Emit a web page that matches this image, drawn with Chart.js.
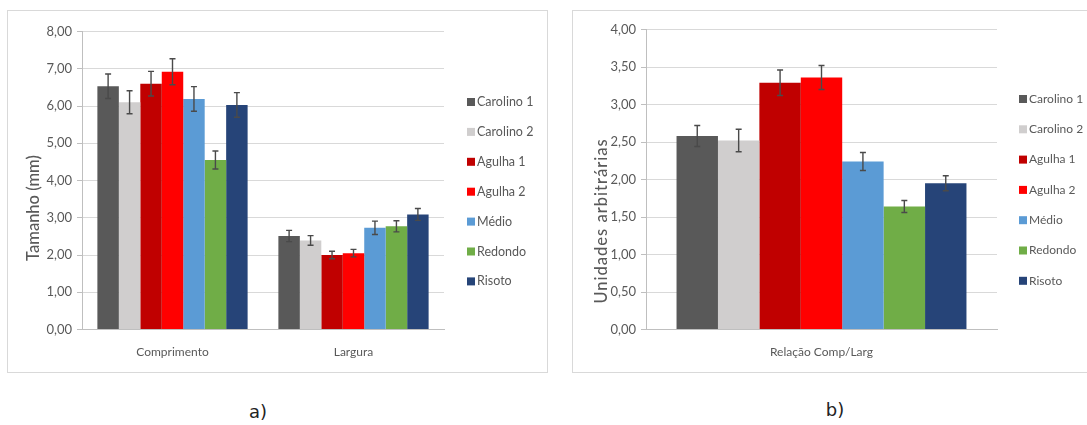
<!DOCTYPE html>
<html>
<head>
<meta charset="utf-8">
<script src="https://cdn.jsdelivr.net/npm/chart.js@4"></script>
<style>
  html, body { margin: 0; padding: 0; background: #fff; }
  body { position: relative; width: 1087px; height: 425px; overflow: hidden; }
  .panel { position: absolute; border: 1px solid #d9d9d9; box-sizing: border-box; }
  canvas { position: absolute; }
  .tag { position: absolute; font-family: "DejaVu Sans", sans-serif; font-size: 18px; color: #222; transform: translate(-50%, -50%); }
</style>
</head>
<body>
<div class="panel" style="left:7px;top:10px;width:541px;height:363px;"></div>
<div class="panel" style="left:572px;top:10px;width:530px;height:363px;"></div>
<canvas id="chartA" width="540" height="362" style="left:7px;top:10px;"></canvas>
<canvas id="chartB" width="520" height="362" style="left:572px;top:10px;"></canvas>
<div class="tag" style="left:258px;top:411px;">a)</div>
<div class="tag" style="left:835px;top:409px;">b)</div>
<script>
// Rice varieties and their colours
const varieties = ['Carolino 1', 'Carolino 2', 'Agulha 1', 'Agulha 2', 'Médio', 'Redondo', 'Risoto'];
const colors = ['#595959', '#d0cece', '#c00000', '#ff0000', '#5b9bd5', '#70ad47', '#264478'];

// a) grain size (mm)
const sizeCategories = ['Comprimento', 'Largura'];
const comprimento = [6.53, 6.10, 6.60, 6.92, 6.19, 4.55, 6.03];
const comprimentoErr = [0.33, 0.31, 0.33, 0.35, 0.33, 0.24, 0.33];
const largura = [2.51, 2.39, 2.00, 2.05, 2.73, 2.77, 3.09];
const larguraErr = [0.15, 0.13, 0.10, 0.10, 0.18, 0.15, 0.16];

// b) length / width ratio
const ratioCategories = ['Relação Comp/Larg'];
const relacao = [2.58, 2.52, 3.29, 3.36, 2.24, 1.64, 1.95];
const relacaoErr = [0.14, 0.15, 0.17, 0.16, 0.12, 0.08, 0.10];

// tick labels
const sizeTicks = [0, 1, 2, 3, 4, 5, 6, 7, 8];
const ratioTicks = [0, 0.5, 1, 1.5, 2, 2.5, 3, 3.5, 4];

const FONT = 'Lato, "Open Sans", sans-serif';
const TEXT = '#595959';
const fmt = v => Number(v).toFixed(2).replace('.', ',');

// Error bars, custom legend and rotated axis title
const extras = {
  id: 'extras',
  afterDatasetsDraw(chart, args, opts) {
    const ctx = chart.ctx;
    const y = chart.scales.y;
    ctx.save();
    ctx.strokeStyle = '#4a4a4a';
    ctx.lineWidth = 1.4;
    chart.data.datasets.forEach((ds, di) => {
      const meta = chart.getDatasetMeta(di);
      meta.data.forEach((bar, i) => {
        const v = ds.data[i], e = ds.errors[i];
        const yt = y.getPixelForValue(v + e), yb = y.getPixelForValue(v - e);
        const x = bar.x;
        ctx.beginPath();
        ctx.moveTo(x, yt); ctx.lineTo(x, yb);
        ctx.moveTo(x - 3, yt); ctx.lineTo(x + 3, yt);
        ctx.moveTo(x - 3, yb); ctx.lineTo(x + 3, yb);
        ctx.stroke();
      });
    });
    ctx.restore();
  },
  afterDraw(chart, args, opts) {
    const ctx = chart.ctx;
    ctx.save();
    // legend
    ctx.font = opts.legendFont + ' ' + FONT;
    ctx.textBaseline = 'middle';
    ctx.textAlign = 'left';
    chart.data.datasets.forEach((ds, i) => {
      const cy = opts.legendY + i * opts.legendStep;
      ctx.fillStyle = ds.backgroundColor;
      ctx.fillRect(opts.legendX, cy - 4, 8, 8);
      ctx.fillStyle = TEXT;
      ctx.fillText(ds.label, opts.legendX + 10, cy);
    });
    // y axis title
    ctx.translate(opts.titleX, opts.titleY);
    ctx.rotate(-Math.PI / 2);
    ctx.font = opts.titleFont + ' ' + FONT;
    if (opts.titleSpacing) ctx.letterSpacing = opts.titleSpacing;
    ctx.textAlign = 'center';
    ctx.fillStyle = TEXT;
    ctx.fillText(opts.title, 0, 0);
    ctx.restore();
  }
};

function makeChart(id, labels, series, errors, ticks, area, extraOpts) {
  const datasets = varieties.map((name, i) => ({
    label: name,
    data: series.map(s => s[i]),
    errors: errors.map(s => s[i]),
    backgroundColor: colors[i],
    borderWidth: 0,
    categoryPercentage: area.catPct,
    barPercentage: 1
  }));
  const canvas = document.getElementById(id);
  return new Chart(canvas, {
    type: 'bar',
    data: { labels, datasets },
    plugins: [extras],
    options: {
      responsive: false,
      animation: false,
      layout: { padding: { top: area.top, right: canvas.width - area.right, left: 0, bottom: 0 } },
      plugins: { legend: { display: false }, tooltip: { enabled: false }, extras: extraOpts },
      scales: {
        x: {
          grid: { display: false, drawTicks: false },
          border: { color: '#bfbfbf', width: 1 },
          ticks: { color: TEXT, font: { family: FONT, size: 12 }, padding: 15 },
          afterFit: s => { s.height = canvas.height - area.bottom; }
        },
        y: {
          min: ticks[0], max: ticks[ticks.length - 1],
          afterBuildTicks: s => { s.ticks = ticks.map(v => ({ value: v })); },
          grid: { color: '#d9d9d9', tickLength: 5, tickColor: '#bfbfbf' },
          border: { color: '#bfbfbf', width: 1 },
          ticks: { color: TEXT, font: { family: FONT, size: 13 }, padding: 5, callback: v => fmt(v) },
          afterFit: s => { s.width = area.left; }
        }
      }
    }
  });
}

makeChart('chartA', sizeCategories, [comprimento, largura], [comprimentoErr, larguraErr], sizeTicks,
  { left: 75, right: 437, top: 21.5, bottom: 319.5, catPct: 0.83 },
  { legendX: 460, legendY: 92, legendStep: 29.9, legendFont: '12.5px', titleX: 27, titleY: 198, title: 'Tamanho (mm)', titleFont: '500 16.5px' });

makeChart('chartB', ratioCategories, [relacao], [relacaoErr], ratioTicks,
  { left: 74, right: 425, top: 19.5, bottom: 319.5, catPct: 0.826 },
  { legendX: 447, legendY: 89, legendStep: 30.3, legendFont: '12px', titleX: 30, titleY: 211, title: 'Unidades arbitrárias', titleFont: '500 16.5px', titleSpacing: '1px' });
</script>
</body>
</html>
